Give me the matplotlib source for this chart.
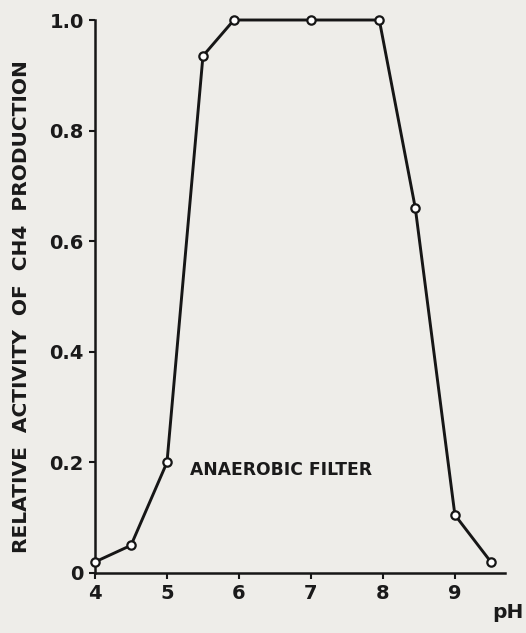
import matplotlib
matplotlib.use("Agg")
import matplotlib.pyplot as plt

# pH vs relative CH4 activity (anaerobic filter)
ph = [4.0, 4.5, 5.0, 5.5, 5.93, 7.0, 7.95, 8.45, 9.0, 9.5]
activity = [0.02, 0.05, 0.20, 0.935, 1.0, 1.0, 1.0, 0.66, 0.105, 0.02]

x_ticks = [4, 5, 6, 7, 8, 9]
y_ticks = [0, 0.2, 0.4, 0.6, 0.8, 1.0]
y_tick_labels = ["0", "0.2", "0.4", "0.6", "0.8", "1.0"]

FONT = ["DejaVu Sans"]
paper = "#eeede9"
ink = "#161616"

fig = plt.figure(figsize=(5.26, 6.33), dpi=100, facecolor=paper)
ax = fig.add_axes([0.1806, 0.0948, 0.78, 0.8736], facecolor=paper)

ax.plot(ph, activity, color=ink, lw=2.1, marker="o", ms=6,
        mfc="white", mec=ink, mew=1.6, clip_on=False, zorder=3)

ax.set_xlim(4, 9.7)
ax.set_ylim(0, 1.0)
ax.spines["top"].set_visible(False)
ax.spines["right"].set_visible(False)
for s in ("left", "bottom"):
    ax.spines[s].set_linewidth(1.8)
    ax.spines[s].set_color(ink)

ax.set_xticks(x_ticks)
ax.set_yticks(y_ticks)
ax.set_yticklabels(y_tick_labels)
ax.tick_params(direction="out", length=4, width=1.5, color=ink,
               labelsize=14, pad=4)
for lab in ax.get_xticklabels() + ax.get_yticklabels():
    lab.set_family(FONT)
    lab.set_fontweight("bold")
    lab.set_color("#1a1a1a")

ax.set_ylabel("RELATIVE  ACTIVITY  OF  CH4  PRODUCTION", family=FONT,
              fontweight="bold", fontsize=14.5, color="#1a1a1a")
ax.yaxis.set_label_coords(-0.155, 0.481)
ax.text(5.32, 0.187, "ANAEROBIC FILTER", family=FONT, fontweight="bold",
        fontsize=12.3, color="#1a1a1a", va="center", ha="left")
fig.text(0.966, 0.033, "pH", family=FONT, fontweight="bold", fontsize=14.5,
         color="#1a1a1a", ha="center", va="center")

fig.savefig("out.png", dpi=100, facecolor=paper)
